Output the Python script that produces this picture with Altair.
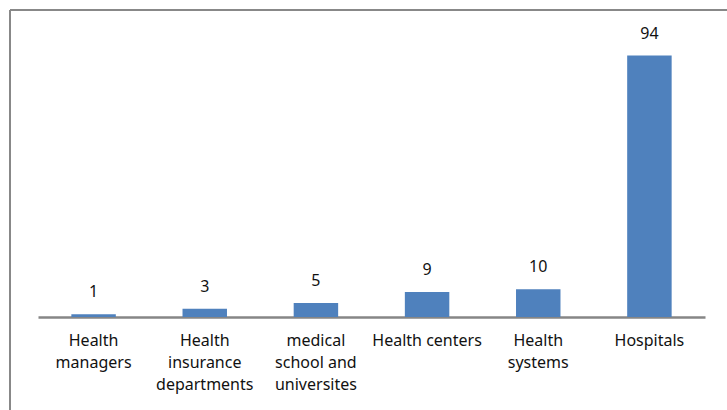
import altair as alt
import pandas as pd

# Categories (a "|" marks a line break in the axis label) and counts
categories = [
    "Health|managers",
    "Health|insurance|departments",
    "medical|school and|universites",
    "Health centers",
    "Health|systems",
    "Hospitals",
]
counts = [1, 3, 5, 9, 10, 94]

df = pd.DataFrame({"category": categories, "count": counts})

FONT = "Noto Sans"
BAR_COLOR = "#4F81BD"
FRAME = "#888888"

x_enc = alt.X(
    "category:N",
    sort=None,
    scale=alt.Scale(paddingInner=0.6, paddingOuter=0.3),
    axis=alt.Axis(
        title=None,
        labelAngle=0,
        ticks=False,
        domainColor="#868686",
        domainWidth=2.5,
        labelExpr="split(datum.label, '|')",
        labelFont=FONT,
        labelFontSize=16,
        labelColor="#111111",
        labelPadding=15,
        labelLineHeight=22,
        labelBaseline="top",
    ),
)
y_enc = alt.Y(
    "count:Q",
    scale=alt.Scale(domain=[0, 105], nice=False),
    axis=None,
)

bars = alt.Chart(df).mark_bar(color=BAR_COLOR).encode(x=x_enc, y=y_enc)

labels = alt.Chart(df).mark_text(
    font=FONT, fontSize=16, color="#111111", baseline="alphabetic", dy=-17
).encode(x=x_enc, y=y_enc, text="count:Q")

# Outer frame: top and left edges of the chart border
frame_top = alt.Chart(df).mark_rule(color=FRAME, strokeWidth=2).encode(
    x=alt.value(-28), x2=alt.value(700), y=alt.value(-15)
)
frame_left = alt.Chart(df).mark_rule(color=FRAME, strokeWidth=2).encode(
    x=alt.value(-28), y=alt.value(-15), y2=alt.value(400)
)

chart = (
    alt.layer(bars, labels, frame_top, frame_left)
    .properties(
        width=667,
        height=292,
        autosize=alt.AutoSizeParams(type="none"),
        padding={"left": 38, "top": 25, "right": 22, "bottom": 93},
        background="white",
    )
    .configure_view(stroke=None)
)

chart.save("out.html", embed_options={"renderer": "svg", "actions": False})
